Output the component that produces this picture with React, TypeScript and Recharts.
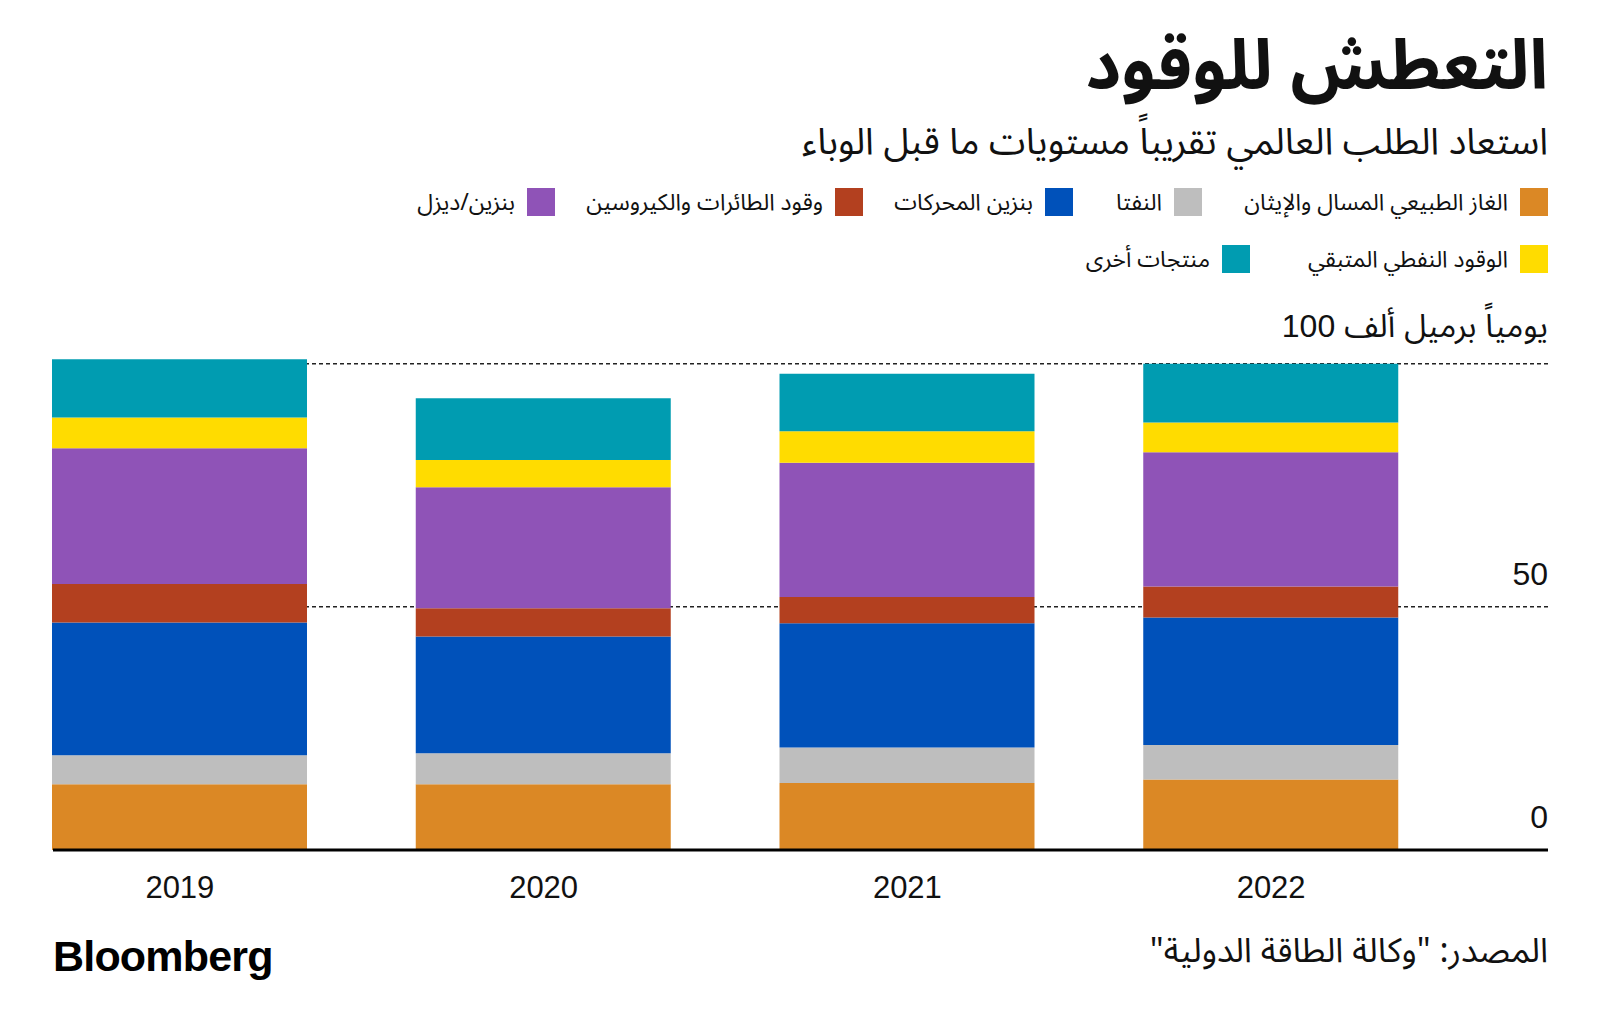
import React from "react";
import { BarChart, Bar, XAxis, YAxis, CartesianGrid } from "recharts";

// values in million barrels per day
const YEARS = ["2019", "2020", "2021", "2022"];
const NGL = [13.5, 13.5, 13.8, 14.5];
const NAPHTHA = [6.0, 6.4, 7.3, 7.1];
const GASOLINE = [27.3, 24.0, 25.5, 26.2];
const JET = [7.9, 5.8, 5.4, 6.4];
const DIESEL = [27.9, 24.9, 27.6, 27.6];
const RESIDUAL = [6.3, 5.6, 6.5, 6.1];
const OTHER = [12.0, 12.7, 11.8, 12.1];

const Y_TICKS = [0, 50, 100];
// the unit words sit left to right after "100", as in the original graphic
const Y_UNIT_WORDS = ["ألف", "برميل", "يومياً"];

const SERIES = [
  { key: "ngl", name: "الغاز الطبيعي المسال والإيثان", color: "#DB8825", values: NGL },
  { key: "naphtha", name: "النفتا", color: "#BEBEBE", values: NAPHTHA },
  { key: "gasoline", name: "بنزين المحركات", color: "#0051BA", values: GASOLINE },
  { key: "jet", name: "وقود الطائرات والكيروسين", color: "#B3401F", values: JET },
  { key: "diesel", name: "بنزين/ديزل", color: "#8F53B7", values: DIESEL },
  { key: "residual", name: "الوقود النفطي المتبقي", color: "#FFDC00", values: RESIDUAL },
  { key: "other", name: "منتجات أخرى", color: "#009CB1", values: OTHER },
];

const data = YEARS.map((year, i) => {
  const row: Record<string, string | number> = { year };
  SERIES.forEach((s) => (row[s.key] = s.values[i]));
  return row;
});

// right edge of each swatch, legend laid out right to left
const LEGEND_ROWS = [
  { top: 188, items: [["ngl", 1548], ["naphtha", 1202], ["gasoline", 1073], ["jet", 863], ["diesel", 555]] },
  { top: 245, items: [["residual", 1548], ["other", 1250]] },
];

const LATIN = "'Liberation Sans', Arial, 'Noto Sans Arabic', 'DejaVu Sans', sans-serif";
const ARABIC = "'Noto Sans Arabic', 'DejaVu Sans', sans-serif";

function XTick({ x, y, payload }: any) {
  return (
    <text x={x} y={y + 48} textAnchor="middle" fontSize={31} fill="#111" fontFamily={LATIN}>
      {payload.value}
    </text>
  );
}

function YTick({ x, y, payload }: any) {
  if (payload.value === 100) {
    return (
      <foreignObject x={x - 500} y={y - 63} width={500} height={50}>
        <div
          style={{
            display: "flex",
            direction: "ltr",
            justifyContent: "flex-end",
            alignItems: "baseline",
            gap: 9,
            height: 50,
            lineHeight: "50px",
            fontSize: 32,
            fontFamily: LATIN,
            color: "#111",
            whiteSpace: "nowrap",
          }}
        >
          <span>100</span>
          {Y_UNIT_WORDS.map((w) => (
            <span key={w}>{w}</span>
          ))}
        </div>
      </foreignObject>
    );
  }
  return (
    <text x={x} y={y - 22} textAnchor="end" fontSize={32} fill="#111" fontFamily={LATIN}>
      {payload.value}
    </text>
  );
}

export default function App() {
  return (
    <div
      style={{
        position: "absolute",
        left: 0,
        top: 0,
        width: 1600,
        height: 1034,
        background: "#fff",
        fontFamily: ARABIC,
        color: "#111",
      }}
    >
      <div
        dir="rtl"
        style={{ position: "absolute", right: 52, top: 16, fontSize: 69, lineHeight: "103px", fontWeight: 700, whiteSpace: "nowrap" }}
      >
        التعطش للوقود
      </div>
      <div
        dir="rtl"
        style={{ position: "absolute", right: 52, top: 124, fontSize: 37, lineHeight: "37px", whiteSpace: "nowrap" }}
      >
        استعاد الطلب العالمي تقريباً مستويات ما قبل الوباء
      </div>

      {LEGEND_ROWS.map((row) =>
        row.items.map(([key, right]) => {
          const s = SERIES.find((d) => d.key === key)!;
          return (
            <div
              key={key as string}
              dir="rtl"
              style={{
                position: "absolute",
                right: 1600 - (right as number),
                top: row.top,
                height: 28,
                display: "flex",
                alignItems: "center",
                gap: 12,
                fontSize: 23,
                whiteSpace: "nowrap",
              }}
            >
              <span style={{ width: 28, height: 28, background: s.color, display: "inline-block" }} />
              <span>{s.name}</span>
            </div>
          );
        })
      )}

      <BarChart
        width={1600}
        height={1034}
        data={data}
        margin={{ top: 315, right: 51, bottom: 124, left: 53 }}
        style={{ position: "absolute", left: 0, top: 0 }}
      >
        <CartesianGrid
          vertical={false}
          horizontalValues={[50, 100]}
          stroke="#222"
          strokeDasharray="4 3"
          strokeWidth={1.5}
        />
        <XAxis
          dataKey="year"
          height={60}
          padding={{ left: -55, right: 95 }}
          axisLine={{ stroke: "#000", strokeWidth: 3 }}
          tickLine={false}
          tickSize={0}
          tickMargin={0}
          tick={<XTick />}
        />
        <YAxis
          orientation="right"
          width={1}
          domain={[0, 110]}
          ticks={Y_TICKS}
          interval={0}
          axisLine={false}
          tickLine={false}
          tickSize={0}
          tickMargin={0}
          tick={<YTick />}
        />
        {SERIES.map((s) => (
          <Bar key={s.key} dataKey={s.key} stackId="a" fill={s.color} barSize={255} isAnimationActive={false} />
        ))}
      </BarChart>

      <div
        style={{
          position: "absolute",
          left: 53,
          top: 935,
          fontFamily: "'Liberation Sans', Arial, sans-serif",
          fontWeight: 700,
          fontSize: 43,
          lineHeight: "43px",
          letterSpacing: -0.8,
          color: "#000",
        }}
      >
        Bloomberg
      </div>
      <div
        dir="rtl"
        style={{ position: "absolute", right: 52, top: 934, fontSize: 34, lineHeight: "34px", whiteSpace: "nowrap" }}
      >
        المصدر: "وكالة الطاقة الدولية"
      </div>
    </div>
  );
}
